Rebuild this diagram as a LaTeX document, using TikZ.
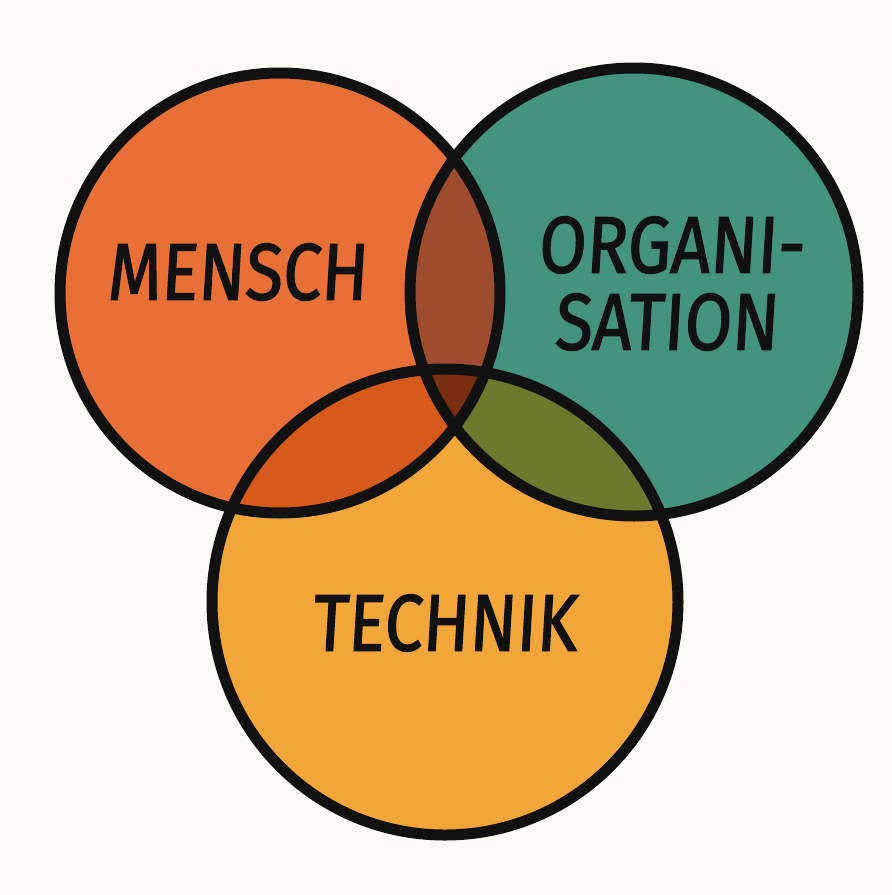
\documentclass[tikz,border=0pt]{standalone}
\usepackage{fontspec}
\newfontfamily\labfont{Fira Sans}[FakeSlant=0.07, FakeBold=1.8]
\definecolor{bg}{HTML}{FCFAF6}
\definecolor{cM}{HTML}{E86F35}
\definecolor{cO}{HTML}{44937C}
\definecolor{cT}{HTML}{F2A63A}
\definecolor{cMO}{HTML}{9E4C2E}
\definecolor{cMT}{HTML}{D65A1C}
\definecolor{cOT}{HTML}{6B7A2C}
\definecolor{cMOT}{HTML}{7A2E12}
\definecolor{ink}{HTML}{111111}
\tikzset{
  ring/.style={draw=ink, line width=11pt},
  lab/.style={font=\labfont\fontsize{80}{84}\selectfont, text=ink, inner sep=0pt, align=center, xscale=0.86}
}
\begin{document}
\begin{tikzpicture}[x=1pt,y=-1pt]
\fill[bg] (0,0) rectangle (892,895);
\useasboundingbox (0,0) rectangle (892,895);
\coordinate (cm) at (280,293);
\coordinate (co) at (634,292);
\coordinate (ct) at (445,602);
% base fills
\fill[cM] (cm) circle[radius=220pt];
\fill[cO] (co) circle[radius=224pt];
\fill[cT] (ct) circle[radius=233pt];
% pairwise overlaps
\begin{scope}
  \clip (cm) circle[radius=220pt];
  \fill[cMO] (co) circle[radius=224pt];
  \fill[cMT] (ct) circle[radius=233pt];
\end{scope}
\begin{scope}
  \clip (co) circle[radius=224pt];
  \fill[cOT] (ct) circle[radius=233pt];
\end{scope}
\begin{scope}
  \clip (cm) circle[radius=220pt];
  \clip (co) circle[radius=224pt];
  \fill[cMOT] (ct) circle[radius=233pt];
\end{scope}
% outlines
\node[ring, circle, minimum size=440pt, inner sep=0pt] (mensch) at (cm) {};
\node[ring, circle, minimum size=448pt, inner sep=0pt] (organisation) at (co) {};
\node[ring, circle, minimum size=466pt, inner sep=0pt] (technik) at (ct) {};
% labels
\node[lab] (lm) at (237,272) {MENSCH};
\node[lab] (lo1) at (671,245) {ORGANI-};
\node[lab] (lo2) at (666,322) {SATION};
\node[lab] (lt) at (444,623) {TECHNIK};
\end{tikzpicture}
\end{document}
